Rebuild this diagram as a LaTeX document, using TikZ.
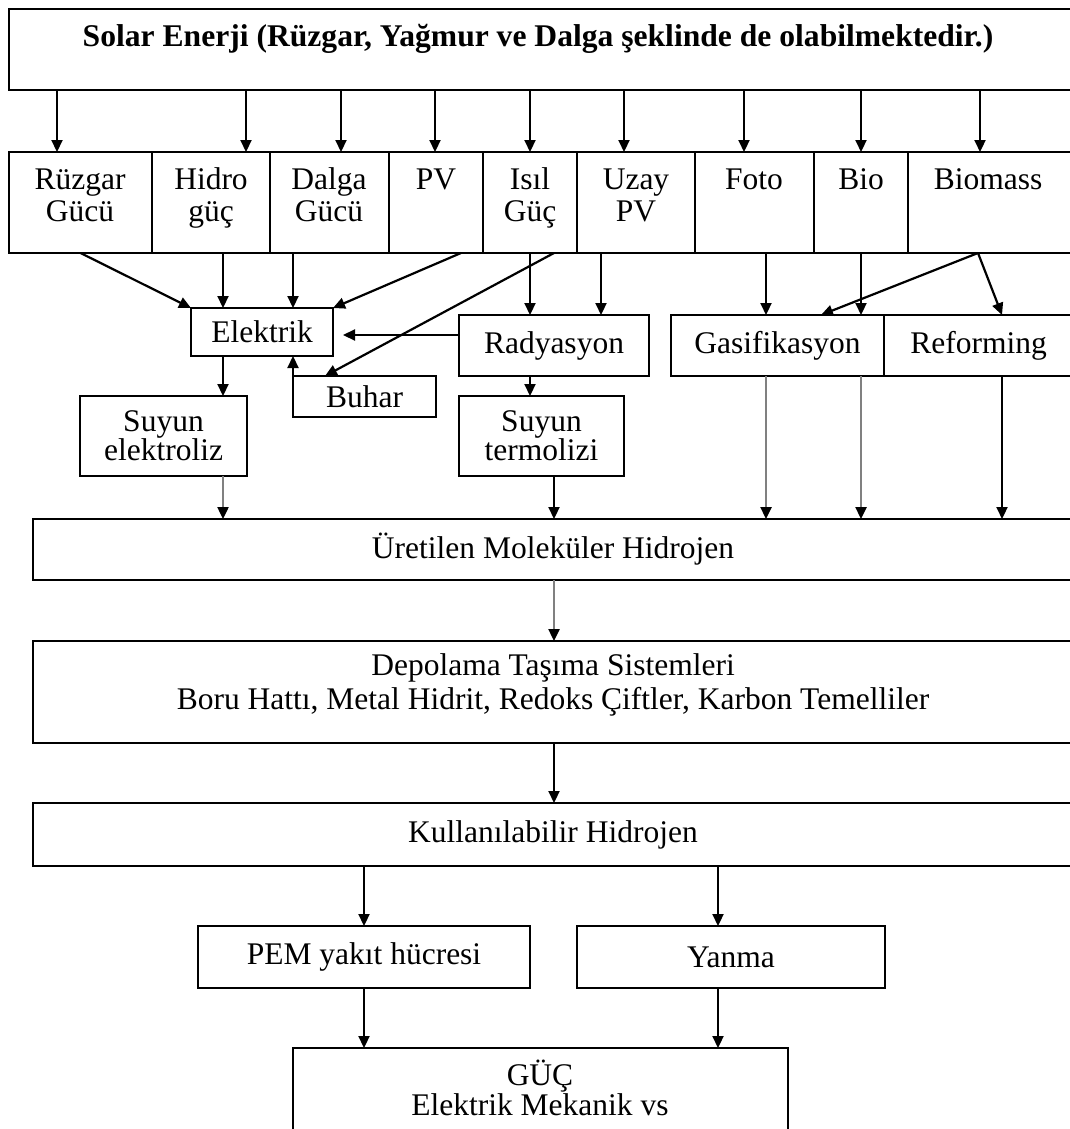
\documentclass[tikz,border=0pt]{standalone}
\usepackage{fontspec}
\setmainfont{Liberation Serif}
\usetikzlibrary{arrows.meta,calc}
\definecolor{lg}{RGB}{128,128,128}
\tikzset{
  box/.style={draw=black, line width=2.6pt, rectangle, inner sep=0pt, outer sep=0pt, anchor=north west, align=center, font=\fontsize{31.5}{31}\selectfont},
  txt/.style={inner sep=0pt, anchor=base, align=center, font=\fontsize{31.5}{32}\selectfont},
  arr/.style={line width=2.2pt, -{Triangle[length=12pt,width=11pt]}},
  garr/.style={line width=2.4pt, draw=lg, -{Triangle[length=12pt,width=11pt,color=black]}}
}
\begin{document}
\begin{tikzpicture}[x=1pt,y=-1pt]
\useasboundingbox (0,0) rectangle (1070,1129);
\fill[white] (0,0) rectangle (1070,1129);
% top box
\node[box, minimum width=1064pt, minimum height=81pt] (solar) at (9,9) {};
\node[txt, font=\bfseries\fontsize{31.6}{34}\selectfont] (title) at (538,47) {Solar Enerji (Rüzgar, Yağmur ve Dalga şeklinde de olabilmektedir.)};
% row boxes
\node[box, minimum width=143pt, minimum height=101pt] (r1) at (9,152) {};
\node[box, minimum width=118pt, minimum height=101pt] (r2) at (152,152) {};
\node[box, minimum width=119pt, minimum height=101pt] (r3) at (270,152) {};
\node[box, minimum width=94pt, minimum height=101pt] (r4) at (389,152) {};
\node[box, minimum width=94pt, minimum height=101pt] (r5) at (483,152) {};
\node[box, minimum width=118pt, minimum height=101pt] (r6) at (577,152) {};
\node[box, minimum width=119pt, minimum height=101pt] (r7) at (695,152) {};
\node[box, minimum width=94pt, minimum height=101pt] (r8) at (814,152) {};
\node[box, minimum width=165pt, minimum height=101pt] (r9) at (908,152) {};
\node[txt] (t1) at (80,221) {Rüzgar\\Gücü};
\node[txt] (t2) at (211,221) {Hidro\\güç};
\node[txt] (t3) at (329,221) {Dalga\\Gücü};
\node[txt] (t4) at (436,189) {PV};
\node[txt] (t5) at (530,221) {Isıl\\Güç};
\node[txt] (t6) at (636,221) {Uzay\\PV};
\node[txt] (t7) at (754,189) {Foto};
\node[txt] (t8) at (861,189) {Bio};
\node[txt] (t9) at (988,189) {Biomass};
% middle boxes
\node[box, minimum width=142pt, minimum height=48pt] (el) at (191,308) {Elektrik};
\node[box, minimum width=143pt, minimum height=41pt] (bu) at (293,376) {Buhar};
\node[box, minimum width=190pt, minimum height=61pt] (rad) at (459,315) {Radyasyon};
\node[box, minimum width=213pt, minimum height=61pt] (gas) at (671,315) {Gasifikasyon};
\node[box, minimum width=189pt, minimum height=61pt] (ref) at (884,315) {Reforming};
\node[box, minimum width=167pt, minimum height=80pt, font=\fontsize{31.5}{29}\selectfont] (se) at (80,396) {Suyun\\elektroliz};
\node[box, minimum width=165pt, minimum height=80pt, font=\fontsize{31.5}{29}\selectfont] (st) at (459,396) {Suyun\\termolizi};
% lower boxes
\node[box, minimum width=1040pt, minimum height=61pt] (ur) at (33,519) {Üretilen Moleküler Hidrojen};
\node[box, minimum width=1040pt, minimum height=102pt] (dep) at (33,641) {};
\node[txt, font=\fontsize{31.5}{34}\selectfont] (dt) at (553,709) {Depolama Taşıma Sistemleri\\Boru Hattı, Metal Hidrit, Redoks Çiftler, Karbon Temelliler};
\node[box, minimum width=1040pt, minimum height=63pt] (kul) at (33,803) {Kullanılabilir Hidrojen};
\node[box, minimum width=332pt, minimum height=62pt] (pem) at (198,926) {PEM yakıt hücresi};
\node[box, minimum width=308pt, minimum height=62pt] (yan) at (577,926) {Yanma};
\node[box, minimum width=495pt, minimum height=100pt, anchor=north] (guc) at (540.5,1048) {};
\node[txt, font=\fontsize{31.5}{30}\selectfont] (gt) at (540,1115) {GÜÇ\\Elektrik Mekanik vs};
% helper x-coordinates
\coordinate (a1) at (57,0);
\coordinate (a2) at (246,0);
\coordinate (a3) at (341,0);
\coordinate (a4) at (435,0);
\coordinate (a5) at (530,0);
\coordinate (a6) at (624,0);
\coordinate (a7) at (744,0);
\coordinate (a8) at (861,0);
\coordinate (a9) at (980,0);
\coordinate (h) at (223,0);
\coordinate (d) at (293,0);
\coordinate (p) at (461,0);
\coordinate (i2) at (554,0);
\coordinate (bx) at (325,0);
\coordinate (u) at (601,0);
\coordinate (ya) at (0,335);
\coordinate (f) at (766,0);
\coordinate (bm) at (978,0);
\coordinate (g2) at (821,0);
\coordinate (rf) at (1002,0);
\coordinate (m) at (554,0);
\coordinate (l) at (364,0);
\coordinate (rr) at (718,0);
% top arrows
\draw[arr] (solar.south -| a1) -- (r1.north -| a1);
\draw[arr] (solar.south -| a2) -- (r2.north -| a2);
\draw[arr] (solar.south -| a3) -- (r3.north -| a3);
\draw[arr] (solar.south -| a4) -- (r4.north -| a4);
\draw[arr] (solar.south -| a5) -- (r5.north -| a5);
\draw[arr] (solar.south -| a6) -- (r6.north -| a6);
\draw[arr] (solar.south -| a7) -- (r7.north -| a7);
\draw[arr] (solar.south -| a8) -- (r8.north -| a8);
\draw[arr] (solar.south -| a9) -- (r9.north -| a9);
% row to middle
\draw[arr] (r1.south) -- (el.north west);
\draw[arr] (r2.south -| h) -- (el.north -| h);
\draw[arr] (r3.south -| d) -- (el.north -| d);
\draw[arr] (r4.south -| p) -- (el.north east);
\draw[arr] (r5.south -| a5) -- (rad.north -| a5);
\draw[arr] (r5.south -| i2) -- (bu.north -| bx);
\draw[arr] (r6.south -| u) -- (rad.north -| u);
\draw[arr, shorten >=10pt] (rad.west |- ya) -- (el.east |- ya);
\draw[arr] (bu.north west) -- (el.south -| bu.north west);
\draw[arr] (el.south -| h) -- (se.north -| h);
\draw[arr] (rad.south -| a5) -- (st.north -| a5);
\draw[arr] (r7.south -| f) -- (gas.north -| f);
\draw[arr] (r8.south -| a8) -- (gas.north -| a8);
\draw[arr] (r9.south -| bm) -- (gas.north -| g2);
\draw[arr] (r9.south -| bm) -- (ref.north -| rf);
% to produced hydrogen
\draw[garr] (se.south -| h) -- (ur.north -| h);
\draw[arr] (st.south -| m) -- (ur.north -| m);
\draw[garr] (gas.south -| f) -- (ur.north -| f);
\draw[garr] (gas.south -| a8) -- (ur.north -| a8);
\draw[arr] (ref.south -| rf) -- (ur.north -| rf);
\draw[garr] (ur.south -| m) -- (dep.north -| m);
\draw[arr] (dep.south -| m) -- (kul.north -| m);
\draw[arr] (kul.south -| l) -- (pem.north -| l);
\draw[arr] (kul.south -| rr) -- (yan.north -| rr);
\draw[arr] (pem.south -| l) -- (guc.north -| l);
\draw[arr] (yan.south -| rr) -- (guc.north -| rr);
\end{tikzpicture}
\end{document}
